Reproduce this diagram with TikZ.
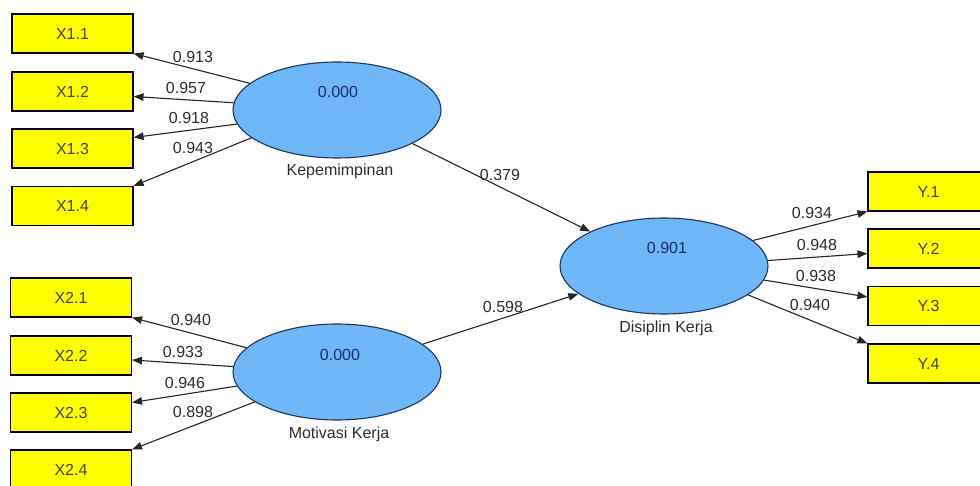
\documentclass[tikz,border=0pt]{standalone}
\usepackage{fontspec}
\setmainfont{Liberation Sans}
\usetikzlibrary{arrows.meta,calc,shapes.geometric}
\definecolor{indfill}{RGB}{255,255,0}
\definecolor{indtext}{RGB}{66,66,28}
\definecolor{latfill}{RGB}{110,182,246}
\definecolor{latline}{RGB}{30,55,85}
\definecolor{lattext}{RGB}{25,45,110}
\definecolor{coeftext}{RGB}{45,45,45}
\begin{document}
\begin{tikzpicture}[x=1pt,y=-1pt,
  every node/.style={font=\fontsize{16}{19}\selectfont},
  indicator/.style={draw=black, line width=1.1pt, fill=indfill, text=indtext,
    minimum width=121pt, minimum height=39pt, inner sep=0pt},
  latent/.style={ellipse, draw=latline, line width=1.1pt, fill=latfill,
    minimum width=208pt, minimum height=96pt, inner sep=0pt},
  rsq/.style={text=lattext},
  latname/.style={text=coeftext, anchor=north, inner sep=0pt},
  coef/.style={text=coeftext, inner sep=0pt},
  path/.style={draw=black!85, line width=1.1pt, -{Triangle[length=10pt,width=7.5pt]}}
]
\useasboundingbox (0,0) rectangle (980,486);
\fill[white] (0,0) rectangle (980,486);

% latent variables
\node[latent] (kep) at (337,110) {};
\node[latent] (mot) at (337,372) {};
\node[latent] (dis) at (664,266) {};
\node[rsq] (kepr) at (338,92) {0.000};
\node[rsq] (motr) at (340,355) {0.000};
\node[rsq] (disr) at (667,248) {0.901};
\node[latname] (kepn) at ($(kep.south)+(3,5)$) {Kepemimpinan};
\node[latname] (motn) at ($(mot.south)+(2,6)$) {Motivasi Kerja};
\node[latname] (disn) at ($(dis.south)+(2,6)$) {Disiplin Kerja};

% indicators of Kepemimpinan
\node[indicator] (x11) at (72.5,33.5) {X1.1};
\node[indicator] (x12) at (72.5,91.5) {X1.2};
\node[indicator] (x13) at (72.5,148.5) {X1.3};
\node[indicator] (x14) at (72.5,206) {X1.4};
% indicators of Motivasi Kerja
\node[indicator] (x21) at (71,297.5) {X2.1};
\node[indicator] (x22) at (71,355.5) {X2.2};
\node[indicator] (x23) at (71,412.5) {X2.3};
\node[indicator] (x24) at (71,469.5) {X2.4};
% indicators of Disiplin Kerja
\node[indicator] (y1) at (928.5,191.5) {Y.1};
\node[indicator] (y2) at (928.5,248.5) {Y.2};
\node[indicator] (y3) at (928.5,306) {Y.3};
\node[indicator] (y4) at (928.5,363.5) {Y.4};

% outer loadings
\draw[path] (kep.163) -- (x11.south east);
\draw[path] (kep.176) -- ($(x12.east)+(0,5)$);
\draw[path] (kep.188) -- ($(x13.east)+(0,-11)$);
\draw[path] (kep.198) -- (x14.north east);
\draw[path] (mot.165) -- (x21.south east);
\draw[path] (mot.177) -- ($(x22.east)+(0,4.5)$);
\draw[path] (mot.188) -- ($(x23.east)+(0,-10)$);
\draw[path] (mot.200) -- (x24.north east);
\draw[path] (dis.16) -- (y1.south west);
\draw[path] (dis.3) -- ($(y2.west)+(0,5)$);
\draw[path] (dis.-8) -- ($(y3.west)+(0,-9)$);
\draw[path] (dis.-19) -- (y4.north west);

% structural paths
\draw[path] (kep.-24) -- (dis.155.5);
\draw[path] (mot.18.6) -- (dis.198.6);

% coefficients
\node[coef] at (193,57) {0.913};
\node[coef] at (186,88) {0.957};
\node[coef] at (189,118) {0.918};
\node[coef] at (193,148) {0.943};
\node[coef] at (191,320) {0.940};
\node[coef] at (183,352) {0.933};
\node[coef] at (185,383) {0.946};
\node[coef] at (193,412) {0.898};
\node[coef] at (500,175) {0.379};
\node[coef] at (503,307) {0.598};
\node[coef] at (812,213) {0.934};
\node[coef] at (817,245) {0.948};
\node[coef] at (816,276) {0.938};
\node[coef] at (810,305) {0.940};
\end{tikzpicture}
\end{document}
